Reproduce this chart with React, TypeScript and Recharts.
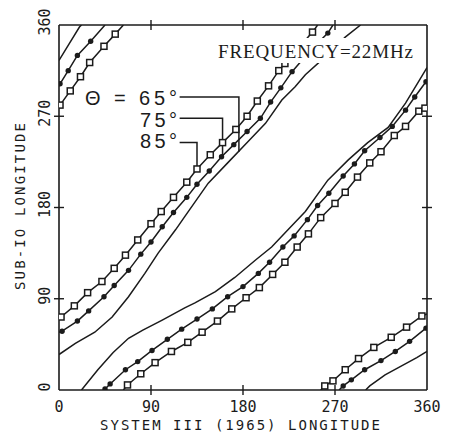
import { LineChart, Line, XAxis, YAxis } from "recharts";

const INK = "#1b1b1b";
const MONO = "'DejaVu Sans Mono', monospace";

const xTicks = [0, 90, 180, 270, 360];
const yTicks = [0, 90, 180, 270, 360];

// theta = 85 deg (open squares), [System III lon, sub-Io lon]
const th85MainBand = [
  [0, 70], [2, 72], [15, 83], [28, 96], [42, 107], [54, 120], [65, 133], [77, 148],
  [90, 164], [100, 176], [112, 190], [125, 205], [135, 218], [148, 232], [160, 244],
  [173, 257], [184, 270], [194, 285], [205, 300], [215, 315], [221, 322], [234, 337],
  [248, 353], [253, 360],
];
const th85MainWrap = [
  [256, 0], [260, 4], [268, 9], [280, 20], [293, 31], [308, 42], [325, 52], [340, 62],
  [355, 73], [360, 75],
];
const th85LowBand = [
  [63, 0], [67, 5], [80, 16], [94, 27], [110, 38], [126, 47], [140, 57], [155, 68],
  [169, 80], [183, 91], [196, 101], [209, 114], [221, 126], [233, 141], [244, 154],
  [256, 170], [270, 184], [280, 195], [292, 210], [304, 224], [315, 235], [328, 251],
  [339, 260], [352, 275], [358, 278], [360, 279],
];
const th85LowWrap = [
  [1, 281], [11, 295], [21, 309], [30, 323], [44, 339], [55, 351], [63, 360],
];

// theta = 75 deg (filled dots)
const th75MainBand = [
  [0, 57], [3, 58], [18, 68], [29, 78], [44, 92], [54, 103], [68, 118], [80, 134],
  [90, 146], [101, 161], [112, 175], [125, 190], [135, 203], [147, 216], [159, 230],
  [171, 242], [184, 255], [197, 268], [207, 284], [217, 298], [228, 314], [240, 328],
  [252, 341], [263, 352], [268, 360],
];
const th75MainWrap = [
  [274, 0], [278, 4], [286, 10], [299, 20], [315, 29], [329, 38], [343, 48], [359, 61],
];
const th75LowBand = [
  [45, 1], [50, 6], [65, 20], [77, 28], [91, 39], [106, 50], [120, 60], [135, 70],
  [150, 80], [165, 92], [180, 102], [195, 115], [206, 126], [219, 141], [230, 152],
  [243, 168], [253, 182], [264, 194], [278, 211], [289, 223], [299, 236], [314, 249],
  [326, 260], [339, 276], [348, 289], [359, 304],
];
const th75LowWrap = [
  [1, 302], [9, 315], [18, 330], [31, 344], [45, 360],
];

// theta = 65 deg (plain line)
const th65MainBand = [
  [0, 35], [16, 46], [35, 57], [52, 72], [68, 92], [84, 115], [97, 135], [114, 158],
  [123, 171], [146, 204], [165, 224], [185, 245], [202, 263], [218, 286], [231, 299],
  [241, 311], [262, 330], [280, 348], [295, 360],
];
const th65MainWrap = [
  [300, 0], [304, 4], [319, 15], [332, 22], [350, 32], [360, 38],
];
const th65LowBand = [
  [22, 0], [38, 20], [53, 37], [68, 51], [82, 59], [101, 69], [123, 81], [133, 86],
  [153, 97], [172, 111], [192, 128], [208, 141], [224, 158], [241, 176], [263, 207],
  [283, 227], [302, 244], [322, 259], [339, 283], [351, 303], [360, 318],
];
const th65LowWrap = [
  [0, 325], [9, 340], [20, 358], [22, 360],
];

// label leaders: [x, y] in data units
const leader65 = [[118, 289], [176, 289], [176, 235]];
const leader75 = [[118, 268], [160, 268], [160, 230]];
const leader85 = [[118, 244], [135, 244], [135, 220]];

const pts = (a: number[][]) => a.map(([x, y]) => ({ x, y }));

const onEdge = (p: any) => !p || p.x <= 0 || p.x >= 360 || p.y <= 0 || p.y >= 360;

const SquareDot = (props: any) => {
  const { cx, cy, payload, index } = props;
  if (onEdge(payload)) return <g key={index} />;
  return (
    <rect key={index} x={cx - 3} y={cy - 3} width={6} height={6}
      fill="#fff" stroke={INK} strokeWidth={1.5} />
  );
};

const RoundDot = (props: any) => {
  const { cx, cy, payload, index } = props;
  if (onEdge(payload)) return <g key={index} />;
  return <circle key={index} cx={cx} cy={cy} r={2.7} fill={INK} />;
};

const series = [
  { id: "85a", data: th85MainBand, dot: SquareDot },
  { id: "85b", data: th85MainWrap, dot: SquareDot },
  { id: "85c", data: th85LowBand, dot: SquareDot },
  { id: "85d", data: th85LowWrap, dot: SquareDot },
  { id: "75a", data: th75MainBand, dot: RoundDot },
  { id: "75b", data: th75MainWrap, dot: RoundDot },
  { id: "75c", data: th75LowBand, dot: RoundDot },
  { id: "75d", data: th75LowWrap, dot: RoundDot },
  { id: "65a", data: th65MainBand, dot: false },
  { id: "65b", data: th65MainWrap, dot: false },
  { id: "65c", data: th65LowBand, dot: false },
  { id: "65d", data: th65LowWrap, dot: false },
  { id: "l65", data: leader65, dot: false },
  { id: "l75", data: leader75, dot: false },
  { id: "l85", data: leader85, dot: false },
];

// tick marks cross the frame: 5px out, 5px in
const T = 5;
const GAP = 7; // tickSize + tickMargin

const BottomTick = (props: any) => {
  const { x, y, payload } = props;
  const ay = y - GAP;
  return (
    <g>
      {payload.value > 0 && payload.value < 360 && (
        <line x1={x} x2={x} y1={ay - T} y2={ay + T} stroke={INK} strokeWidth={1.4} />
      )}
      <text x={x} y={ay + 22} textAnchor="middle" fontFamily={MONO} fontSize={15} fill={INK}>
        {payload.value}
      </text>
    </g>
  );
};

const TopTick = (props: any) => {
  const { x, y, payload } = props;
  const ay = y + GAP;
  if (payload.value <= 0 || payload.value >= 360) return <g />;
  return <line x1={x} x2={x} y1={ay - T} y2={ay + T} stroke={INK} strokeWidth={1.4} />;
};

const LeftTick = (props: any) => {
  const { x, y, payload } = props;
  const ax = x + GAP;
  const cy = y - 3;
  return (
    <g>
      {payload.value > 0 && payload.value < 360 && (
        <line x1={ax - T} x2={ax + T} y1={y} y2={y} stroke={INK} strokeWidth={1.4} />
      )}
      <text x={ax - 9} y={cy} transform={`rotate(-90 ${ax - 9} ${cy})`} textAnchor="middle"
        fontFamily={MONO} fontSize={15} fill={INK}>
        {payload.value}
      </text>
    </g>
  );
};

const RightTick = (props: any) => {
  const { x, y, payload } = props;
  const ax = x - GAP;
  if (payload.value <= 0 || payload.value >= 360) return <g />;
  return <line x1={ax - T} x2={ax + T} y1={y} y2={y} stroke={INK} strokeWidth={1.4} />;
};

const axisLine = { stroke: INK, strokeWidth: 1.6 };

export default function App() {
  return (
    <div style={{ position: "absolute", left: 0, top: 0, width: 450, height: 435, background: "#fff" }}>
      <LineChart width={450} height={435} margin={{ top: 24, right: 22, bottom: 0, left: 0 }}>
        <XAxis xAxisId="b" type="number" dataKey="x" domain={[0, 360]} ticks={xTicks}
          interval={0} allowDataOverflow height={45} tickSize={T} tickMargin={2}
          axisLine={axisLine} tickLine={false} tick={<BottomTick />} />
        <XAxis xAxisId="t" orientation="top" type="number" dataKey="x" domain={[0, 360]}
          ticks={xTicks} interval={0} allowDataOverflow height={1} tickSize={T} tickMargin={2}
          axisLine={axisLine} tickLine={false} tick={<TopTick />} />
        <YAxis yAxisId="l" type="number" dataKey="y" domain={[0, 360]} ticks={yTicks}
          interval={0} allowDataOverflow width={59} tickSize={T} tickMargin={2}
          axisLine={axisLine} tickLine={false} tick={<LeftTick />} />
        <YAxis yAxisId="r" orientation="right" type="number" dataKey="y" domain={[0, 360]}
          ticks={yTicks} interval={0} allowDataOverflow width={1} tickSize={T} tickMargin={2}
          axisLine={axisLine} tickLine={false} tick={<RightTick />} />
        {series.map((s) => (
          <Line key={s.id} xAxisId="b" yAxisId="l" data={pts(s.data)} dataKey="y"
            type="linear" stroke={INK} strokeWidth={1.5} dot={s.dot as any}
            activeDot={false} isAnimationActive={false} />
        ))}
      </LineChart>
      <svg width={450} height={435} style={{ position: "absolute", left: 0, top: 0, pointerEvents: "none" }}>
        <rect x={214} y={38} width={204} height={25} fill="#fff" />
        <text x={218} y={58} textLength={195} lengthAdjust="spacing"
          fontFamily="'Liberation Serif', serif" fontSize={19} fill={INK}>
          FREQUENCY=22MHz
        </text>
        <text x={85} y={105} textLength={92} lengthAdjust="spacing"
          fontFamily="'Liberation Sans', sans-serif" fontSize={20} fill={INK}>
          Θ = 65°
        </text>
        <text x={140} y={127} textLength={37} lengthAdjust="spacing"
          fontFamily="'Liberation Sans', sans-serif" fontSize={20} fill={INK}>
          75°
        </text>
        <text x={140} y={148} textLength={37} lengthAdjust="spacing"
          fontFamily="'Liberation Sans', sans-serif" fontSize={20} fill={INK}>
          85°
        </text>
        <text x={100} y={430} textLength={280} lengthAdjust="spacing"
          fontFamily={MONO} fontSize={14} fill={INK}>
          SYSTEM III (1965) LONGITUDE
        </text>
        <text x={25} y={290} transform="rotate(-90 25 290)" textLength={167} lengthAdjust="spacing"
          fontFamily={MONO} fontSize={14} fill={INK}>
          SUB-IO LONGITUDE
        </text>
      </svg>
    </div>
  );
}
